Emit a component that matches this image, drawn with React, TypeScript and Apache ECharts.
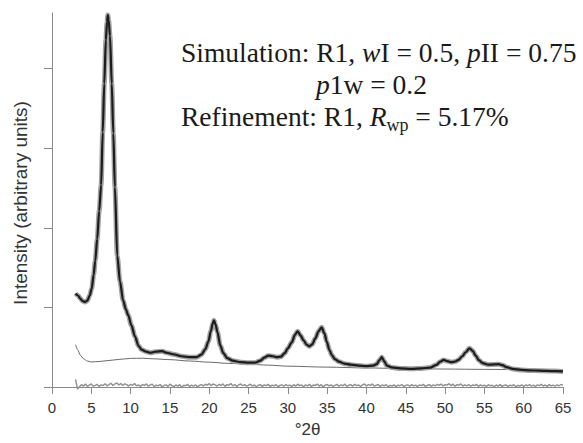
import React, { useEffect, useRef } from "react";
import * as echarts from "echarts";

// ---- data ----
const xTickStep = 5;
const yTickValues = [0, 1000, 2000, 3000, 4000];

const profileX = [
  3.0, 3.3, 3.6, 3.9, 4.2, 4.5, 4.8, 5.05, 5.3, 5.5, 5.75, 6.0, 6.25, 6.45, 6.65, 6.85, 7.0, 7.1, 7.2, 7.38,
  7.6, 7.8, 8.0, 8.3, 8.65, 9.05, 9.4, 9.7, 10.1, 10.55, 11.0, 11.4, 12.0, 12.5, 13.2, 14.0, 14.6, 15.4, 16.5,
  17.5, 18.4, 19.0, 19.5, 19.9, 20.2, 20.45, 20.6, 20.8, 21.05, 21.4, 21.8, 22.3, 23.0, 24.0, 25.0, 25.8,
  26.5, 27.0, 27.5, 28.1, 28.6, 29.1, 29.6, 30.0, 30.5, 30.9, 31.25, 31.6, 32.0, 32.4, 32.75, 33.1, 33.5,
  33.9, 34.3, 34.65, 34.95, 35.3, 35.6, 36.0, 36.5, 37.2, 38.0, 39.0, 40.0, 40.8, 41.3, 41.65, 41.95, 42.25,
  42.6, 43.2, 44.3, 45.7, 47.0, 48.1, 48.9, 49.4, 49.8, 50.3, 50.8, 51.3, 51.7, 52.2, 52.6, 53.1, 53.5, 53.9,
  54.3, 54.8, 55.5, 56.2, 56.8, 57.3, 57.8, 58.6, 59.7, 60.8, 62.0, 63.0, 64.0, 65.0,
];
const profileY = [
  1175, 1150, 1112, 1081, 1069, 1087, 1150, 1237, 1412, 1587, 1862, 2212, 2537, 3200, 3812, 4362, 4587, 4675,
  4612, 4412, 3812, 3187, 2512, 1650, 1325, 1087, 975, 900, 775, 637, 519, 469, 444, 431, 444, 450, 431, 412,
  387, 375, 375, 406, 475, 575, 700, 800, 837, 787, 687, 525, 425, 362, 331, 312, 306, 306, 331, 369, 394,
  387, 375, 381, 425, 487, 562, 656, 700, 650, 587, 531, 512, 537, 612, 700, 750, 675, 569, 462, 400, 350,
  319, 294, 281, 269, 262, 269, 287, 337, 375, 325, 269, 246, 234, 229, 234, 244, 279, 319, 341, 325, 312,
  321, 341, 387, 437, 487, 456, 394, 337, 300, 281, 284, 287, 275, 250, 227, 215, 209, 206, 202, 200, 196,
];

const backgroundX = [3.0, 3.3, 3.6, 4.0, 4.5, 5.0, 6.0, 7.0, 8.5, 10.0, 11.5, 13.0, 15.0, 17.5, 20.0, 22.5, 25.0, 27.5, 30.0, 35.0, 40.0, 45.0, 50.0, 55.0, 60.0, 65.0];
const backgroundY = [531, 462, 400, 356, 327, 315, 321, 331, 347, 360, 362, 354, 344, 327, 312, 297, 287, 275, 262, 250, 240, 231, 226, 222, 219, 216];

// difference curve, one value every 0.25 °2θ from 3 to 65
const diffStart = 3;
const diffStep = 0.25;
const diffY = [
  95, -25, 5, 30, 12, 38, 8, 25, 40, 10, 22, 35, 5, 28, 18, 42, 15, 30, 48, 20,
  38, 52, 25, 45, 18, 40, 30, 12, 35, 22, 45, 15, 28, 8, 32, 20, 40, 10, 26, 36,
  5, 24, 14, 32, 0, 20, 28, 8, 36, 18, 4, 26, 12, 30, -2, 22, 16, 34, 6, 24,
  10, 28, 2, 20, 30, 14, 36, 24, 42, 18, 38, 28, 12, 34, 20, 40, 8, 30, 22, 44,
  14, 32, 6, 28, 38, 16, 30, 10, 24, 36, 12, 26, 4, 22, 30, 8, 28, 18, 34, 6,
  24, 14, 30, 2, 20, 28, 10, 32, 16, 24, 6, 30, 12, 36, 18, 26, 4, 28, 14, 34,
  8, 26, 20, 38, 12, 30, 4, 24, 32, 14, 28, 6, 22, 34, 10, 26, 16, 36, 8, 22,
  30, 12, 34, 18, 26, 6, 28, 38, 14, 30, 20, 40, 10, 24, 32, 6, 26, 14, 30, 2,
  22, 12, 28, 4, 24, 16, 32, 8, 20, 28, 10, 30, 14, 24, 6, 26, 18, 34, 8, 22,
  30, 12, 28, 16, 34, 20, 38, 14, 30, 24, 42, 18, 36, 10, 30, 22, 40, 12, 28, 16,
  32, 10, 26, 18, 34, 8, 28, 14, 24, 6, 30, 16, 22, 4, 26, 12, 30, 8, 20, 28,
  6, 24, 14, 30, 2, 22, 12, 28, 8, 26, 16, 32, 10, 24, 6, 28, 18, 34, 12, 26,
  8, 30, 14, 24, 10, 28, 16, 32, 20,
];

// ---- annotation text ----
type Seg = { t: string; i?: boolean; sub?: boolean };
const line1: Seg[] = [{ t: "Simulation: R1, " }, { t: "w", i: true }, { t: "I = 0.5, " }, { t: "p", i: true }, { t: "II = 0.75" }];
const line2: Seg[] = [{ t: "p", i: true }, { t: "1w = 0.2" }];
const line3: Seg[] = [{ t: "Refinement: R1, " }, { t: "R", i: true }, { t: "wp", sub: true }, { t: " = 5.17%" }];

const SERIF = "'Liberation Serif', 'Times New Roman', serif";
const MAIN_SIZE = 27.5;
const SUB_SIZE = 18;

function buildLine(segs: Seg[], left: number, midY: number) {
  const canvas = document.createElement("canvas");
  const ctx = canvas.getContext("2d")!;
  let x = left;
  const els: any[] = [];
  for (const s of segs) {
    const size = s.sub ? SUB_SIZE : MAIN_SIZE;
    const style = s.i ? "italic" : "normal";
    ctx.font = `${style} ${size}px ${SERIF}`;
    const w = ctx.measureText(s.t).width;
    els.push({
      type: "text",
      x,
      y: s.sub ? midY + 9 : midY,
      silent: true,
      style: {
        text: s.t,
        fontFamily: SERIF,
        fontSize: size,
        fontStyle: style,
        lineHeight: size,
        fill: "#1a1a1a",
        verticalAlign: "middle",
        align: "left",
      },
    });
    x += w;
  }
  return els;
}

export default function App() {
  const ref = useRef<HTMLDivElement>(null);
  useEffect(() => {
    if (!ref.current) return;
    const chart = echarts.init(ref.current, undefined, { renderer: "svg" });
    const profile = profileX.map((x, k) => [x, profileY[k]]);
    const background = backgroundX.map((x, k) => [x, backgroundY[k]]);
    const diff = diffY.map((v, k) => [diffStart + k * diffStep, v]);
    const axisColor = "#8a8a8a";
    const sans = "'Liberation Sans', Arial, sans-serif";
    chart.setOption({
      animation: false,
      grid: { left: 52, right: 20, top: 13, bottom: 48 },
      xAxis: {
        type: "value",
        min: 0,
        max: 65,
        interval: xTickStep,
        name: "°2θ",
        nameLocation: "middle",
        nameGap: 28,
        nameTextStyle: { fontFamily: sans, fontSize: 17, color: "#333" },
        axisLine: { show: true, lineStyle: { color: axisColor, width: 1 } },
        axisTick: { show: true, length: 7, lineStyle: { color: axisColor } },
        axisLabel: { fontFamily: sans, fontSize: 15, color: "#333", margin: 7 },
        splitLine: { show: false },
      },
      yAxis: {
        type: "value",
        min: -75,
        max: 4700,
        offset: 1,
        name: "Intensity (arbitrary units)",
        nameLocation: "middle",
        nameGap: 21,
        nameTextStyle: { fontFamily: sans, fontSize: 19, color: "#333" },
        axisLine: { show: true, lineStyle: { color: axisColor, width: 1 } },
        axisTick: { show: true, length: 8, customValues: yTickValues, lineStyle: { color: axisColor } },
        axisLabel: { show: false },
        splitLine: { show: false },
      },
      series: [
        {
          type: "line",
          data: background,
          showSymbol: false,
          smooth: 0.3,
          smoothMonotone: "x",
          lineStyle: { color: "#6a6a6a", width: 1 },
          silent: true,
          z: 1,
        },
        {
          type: "line",
          data: profile,
          showSymbol: false,
          smooth: 0.3,
          smoothMonotone: "x",
          lineStyle: { color: "#a3a3a3", width: 5 },
          silent: true,
          z: 2,
        },
        {
          type: "line",
          data: profile,
          showSymbol: false,
          smooth: 0.3,
          smoothMonotone: "x",
          lineStyle: { color: "#1c1c1c", width: 2.2 },
          silent: true,
          z: 3,
        },
        {
          type: "line",
          data: diff,
          showSymbol: false,
          lineStyle: { color: "#8e8e8e", width: 1.4 },
          silent: true,
          z: 2,
        },
      ],
      graphic: [
        ...buildLine(line1, 181, 52.5),
        ...buildLine(line2, 316, 84.5),
        ...buildLine(line3, 181, 116),
      ],
    });
    return () => chart.dispose();
  }, []);
  return <div ref={ref} style={{ width: 583, height: 443, position: "absolute", left: 0, top: 0 }} />;
}
